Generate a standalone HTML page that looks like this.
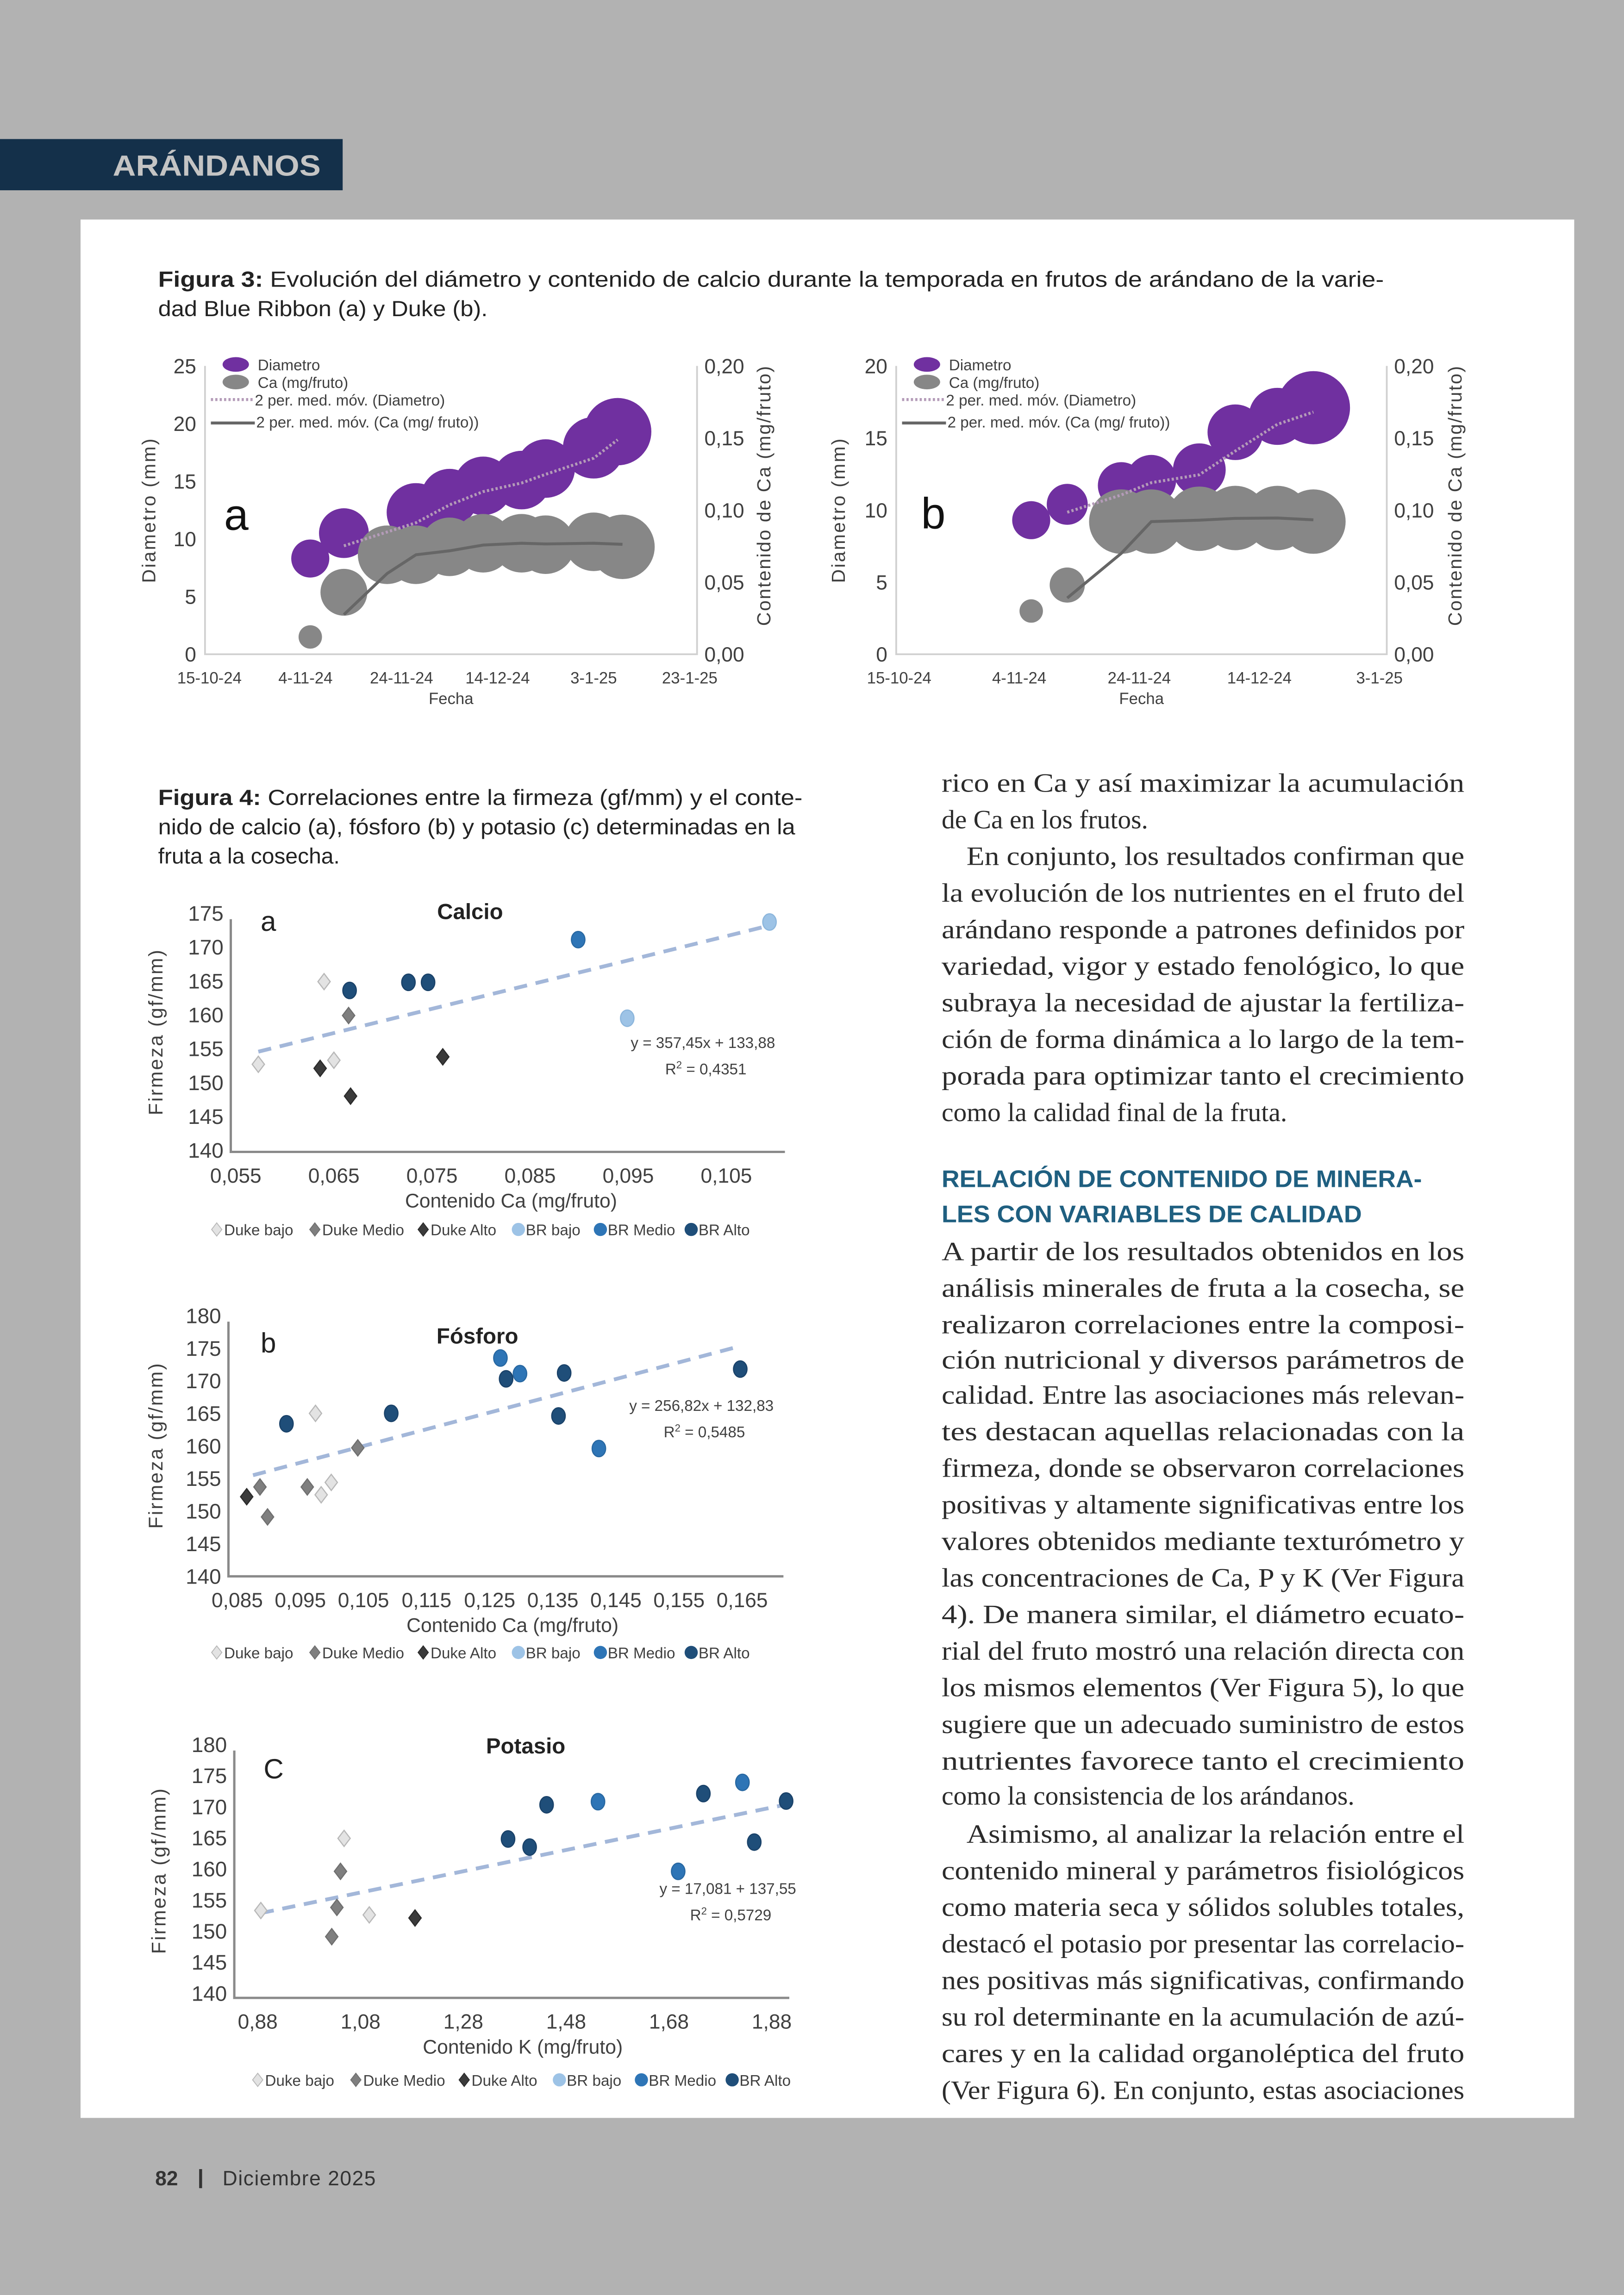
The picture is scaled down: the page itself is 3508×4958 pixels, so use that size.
<!DOCTYPE html>
<html><head><meta charset="utf-8"><title>Arándanos - Figuras 3 y 4</title>
<style>
html,body{margin:0;padding:0;background:#b2b2b2;}
svg{display:block;}
.ax{font-family:"Liberation Sans",sans-serif;fill:#404040;}
.body{font-family:"Liberation Serif",serif;font-size:18.2px;fill:#2b2b2b;}
</style></head>
<body>
<svg id="page" xmlns="http://www.w3.org/2000/svg" width="3508" height="4958" viewBox="0 0 1109 1568" preserveAspectRatio="none">
<rect x="0" y="0" width="1109" height="1568" fill="#b2b2b2"/>
<rect x="0" y="95" width="234" height="35" fill="#14304a"/>
<text x="77" y="120" font-family="Liberation Sans,sans-serif" font-weight="bold" font-size="20" fill="#c4c4c4" textLength="142" lengthAdjust="spacingAndGlyphs">ARÁNDANOS</text>
<rect x="55" y="150" width="1020" height="1297" fill="#ffffff"/>

<g font-family="Liberation Sans,sans-serif" font-size="15" fill="#222">
<text x="108" y="196" textLength="837" lengthAdjust="spacingAndGlyphs"><tspan font-weight="bold">Figura 3:</tspan> Evolución del diámetro y contenido de calcio durante la temporada en frutos de arándano de la varie-</text>
<text x="108" y="216" textLength="225" lengthAdjust="spacingAndGlyphs">dad Blue Ribbon (a) y Duke (b).</text>
</g>

<g font-family="Liberation Sans,sans-serif" font-size="15" fill="#222">
<text x="108" y="550" textLength="440" lengthAdjust="spacingAndGlyphs"><tspan font-weight="bold">Figura 4:</tspan> Correlaciones entre la firmeza (gf/mm) y el conte-</text>
<text x="108" y="570" textLength="435" lengthAdjust="spacingAndGlyphs">nido de calcio (a), fósforo (b) y potasio (c) determinadas en la</text>
<text x="108" y="590" textLength="124" lengthAdjust="spacingAndGlyphs">fruta a la cosecha.</text>
</g>

<g class="body">
<text x="643" y="541" textLength="357" lengthAdjust="spacingAndGlyphs">rico en Ca y así maximizar la acumulación</text>
<text x="643" y="566">de Ca en los frutos.</text>
<text x="660" y="591" textLength="340" lengthAdjust="spacingAndGlyphs">En conjunto, los resultados confirman que</text>
<text x="643" y="616" textLength="357" lengthAdjust="spacingAndGlyphs">la evolución de los nutrientes en el fruto del</text>
<text x="643" y="641" textLength="357" lengthAdjust="spacingAndGlyphs">arándano responde a patrones definidos por</text>
<text x="643" y="666" textLength="357" lengthAdjust="spacingAndGlyphs">variedad, vigor y estado fenológico, lo que</text>
<text x="643" y="691" textLength="357" lengthAdjust="spacingAndGlyphs">subraya la necesidad de ajustar la fertiliza-</text>
<text x="643" y="716" textLength="357" lengthAdjust="spacingAndGlyphs">ción de forma dinámica a lo largo de la tem-</text>
<text x="643" y="741" textLength="357" lengthAdjust="spacingAndGlyphs">porada para optimizar tanto el crecimiento</text>
<text x="643" y="766">como la calidad final de la fruta.</text>
<text x="643" y="861" textLength="357" lengthAdjust="spacingAndGlyphs">A partir de los resultados obtenidos en los</text>
<text x="643" y="886" textLength="357" lengthAdjust="spacingAndGlyphs">análisis minerales de fruta a la cosecha, se</text>
<text x="643" y="911" textLength="357" lengthAdjust="spacingAndGlyphs">realizaron correlaciones entre la composi-</text>
<text x="643" y="935" textLength="357" lengthAdjust="spacingAndGlyphs">ción nutricional y diversos parámetros de</text>
<text x="643" y="959" textLength="357" lengthAdjust="spacingAndGlyphs">calidad. Entre las asociaciones más relevan-</text>
<text x="643" y="984" textLength="357" lengthAdjust="spacingAndGlyphs">tes destacan aquellas relacionadas con la</text>
<text x="643" y="1009" textLength="357" lengthAdjust="spacingAndGlyphs">firmeza, donde se observaron correlaciones</text>
<text x="643" y="1034" textLength="357" lengthAdjust="spacingAndGlyphs">positivas y altamente significativas entre los</text>
<text x="643" y="1059" textLength="357" lengthAdjust="spacingAndGlyphs">valores obtenidos mediante texturómetro y</text>
<text x="643" y="1084" textLength="357" lengthAdjust="spacingAndGlyphs">las concentraciones de Ca, P y K (Ver Figura</text>
<text x="643" y="1109" textLength="357" lengthAdjust="spacingAndGlyphs">4). De manera similar, el diámetro ecuato-</text>
<text x="643" y="1134" textLength="357" lengthAdjust="spacingAndGlyphs">rial del fruto mostró una relación directa con</text>
<text x="643" y="1159" textLength="357" lengthAdjust="spacingAndGlyphs">los mismos elementos (Ver Figura 5), lo que</text>
<text x="643" y="1184" textLength="357" lengthAdjust="spacingAndGlyphs">sugiere que un adecuado suministro de estos</text>
<text x="643" y="1209" textLength="357" lengthAdjust="spacingAndGlyphs">nutrientes favorece tanto el crecimiento</text>
<text x="643" y="1233">como la consistencia de los arándanos.</text>
<text x="660" y="1259" textLength="340" lengthAdjust="spacingAndGlyphs">Asimismo, al analizar la relación entre el</text>
<text x="643" y="1284" textLength="357" lengthAdjust="spacingAndGlyphs">contenido mineral y parámetros fisiológicos</text>
<text x="643" y="1309" textLength="357" lengthAdjust="spacingAndGlyphs">como materia seca y sólidos solubles totales,</text>
<text x="643" y="1334" textLength="357" lengthAdjust="spacingAndGlyphs">destacó el potasio por presentar las correlacio-</text>
<text x="643" y="1359" textLength="357" lengthAdjust="spacingAndGlyphs">nes positivas más significativas, confirmando</text>
<text x="643" y="1384" textLength="357" lengthAdjust="spacingAndGlyphs">su rol determinante en la acumulación de azú-</text>
<text x="643" y="1409" textLength="357" lengthAdjust="spacingAndGlyphs">cares y en la calidad organoléptica del fruto</text>
<text x="643" y="1434" textLength="357" lengthAdjust="spacingAndGlyphs">(Ver Figura 6). En conjunto, estas asociaciones</text>
</g>
<g font-family="Liberation Sans,sans-serif" font-weight="bold" font-size="16.5" fill="#1f5f80">
<text x="643" y="811" textLength="328" lengthAdjust="spacingAndGlyphs">RELACIÓN DE CONTENIDO DE MINERA-</text>
<text x="643" y="835" textLength="287" lengthAdjust="spacingAndGlyphs">LES CON VARIABLES DE CALIDAD</text>
</g>

<g font-family="Liberation Sans,sans-serif" font-size="14" fill="#333">
<text x="106" y="1493" font-weight="bold">82</text>
<rect x="136" y="1482" width="2" height="13" fill="#333"/>
<text x="152" y="1493" letter-spacing="0.5">Diciembre 2025</text>
</g>
<g id="charts"></g>
</svg>

<script>
// ---------- Figure 3 data ----------
const dateTicks = ["15-10-24","4-11-24","24-11-24","14-12-24","3-1-25","23-1-25"];
const dateTickDays = [0,20,40,60,80,100];
const aDiamDays = [21,28,43,50,57,65,70,80,85];
const aDiam = [8.3,10.5,12.3,13.6,14.6,15.1,16.1,17.9,19.3];
const aDiamSize = [13,17,20,19.5,20,20,20,21,23];
const aCaDays = [21,28,37,43,50,57,65,70,80,86];
const aCa = [0.012,0.043,0.069,0.069,0.0745,0.077,0.077,0.076,0.078,0.0745];
const aCaSize = [8,16,20,20,20,20,20,20,20,22];
const bDiamDays = [22,28,37,42,50,56,63,69];
const bDiam = [9.3,10.4,11.7,12.1,12.8,15.4,16.5,17.1];
const bDiamSize = [13,14,16,17,18,19,19.5,25];
const bCaDays = [22,28,37,42,50,56,63,69];
const bCa = [0.030,0.048,0.092,0.092,0.094,0.0945,0.0945,0.092];
const bCaSize = [8,12,22,22,22,22,22,22];

// ---------- Figure 4 data ----------
const groupNames = ["Duke bajo","Duke Medio","Duke Alto","BR bajo","BR Medio","BR Alto"];
const caX = [0.0573,0.0640,0.0650,0.0665,0.0636,0.0667,0.0761,0.0949,0.1094,0.0899,0.0666,0.0726,0.0746];
const caY = [152.5,164.7,153.1,159.7,151.9,147.8,153.6,159.3,173.5,170.9,163.4,164.6,164.6];
const caG = [0,0,0,1,2,2,2,3,3,4,5,5,5];
const caTicks = [0.055,0.065,0.075,0.085,0.095,0.105];
const pX = [0.0974,0.0983,0.0999,0.0886,0.0898,0.0961,0.1041,0.0865,0.1267,0.1298,0.1423,0.0928,0.1094,0.1276,0.1368,0.1359,0.1647];
const pY = [164.8,152.3,154.2,153.5,148.9,153.5,159.5,152.0,173.3,170.9,159.4,163.2,164.8,170.1,171.0,164.4,171.6];
const pG = [0,0,0,1,1,1,1,2,4,4,4,5,5,5,5,5,5];
const pTicks = [0.085,0.095,0.105,0.115,0.125,0.135,0.145,0.155,0.165];
const kX = [0.886,1.048,1.097,1.041,1.034,1.024,1.186,1.542,1.698,1.823,1.367,1.409,1.442,1.747,1.846,1.908];
const kY = [153.1,164.7,152.4,159.4,153.6,148.9,151.9,170.6,159.4,173.7,164.6,163.3,170.1,171.9,164.1,170.7];
const kG = [0,0,0,1,1,1,2,4,4,4,5,5,5,5,5,5];
const kTicks = [0.88,1.08,1.28,1.48,1.68,1.88];
const firmTicks = [140,145,150,155,160,165,170,175,180];

const NS="http://www.w3.org/2000/svg";
const root=document.getElementById('charts');
function mk(tag,attrs,parent,txt){const e=document.createElementNS(NS,tag);for(const k in attrs)e.setAttribute(k,attrs[k]);if(txt!==undefined)e.textContent=txt;(parent||root).appendChild(e);return e;}
function fmt(v,d){return v.toFixed(d).replace('.',',');}

// ---------- Bubble chart ----------
function bubbleChart(cfg){
  const g=mk('g',{});
  
  
  const X=d=>cfg.x0+d*cfg.xs;
  const YL=v=>cfg.yb-(v/cfg.ymax)*(cfg.yb-cfg.yt);
  const YR=v=>cfg.yb-(v/0.20)*(cfg.yb-cfg.yt);
  const ax=mk('path',{d:`M${cfg.axL},${cfg.yt} V${cfg.yb} H${cfg.axR} V${cfg.yt}`,fill:'none',stroke:'#d0d0d0','stroke-width':1.2},g);
  
  
  for(let v=0;v<=cfg.ymax;v+=5){
    const t=mk('text',{x:cfg.axL-6,y:YL(v)+5,'text-anchor':'end','font-size':14,class:'ax'},g,String(v));
    
    
  }
  for(let i=0;i<=4;i++){
    const v=i*0.05;
    const t=mk('text',{x:cfg.axR+5,y:YR(v)+5,'font-size':14,class:'ax'},g,fmt(v,2));
    
    
  }
  cfg.ticks.forEach((lab,i)=>{
    const t=mk('text',{x:X(cfg.tickDays[i]),y:cfg.yb+20,'text-anchor':'middle','font-size':11,class:'ax'},g,lab);
    
    
  });
  let t=mk('text',{x:(cfg.axL+cfg.axR)/2,y:cfg.yb+34,'text-anchor':'middle','font-size':11,class:'ax'},g,'Fecha');
  
  
  t=mk('text',{x:0,y:0,'text-anchor':'middle','font-size':13,class:'ax',transform:`translate(${cfg.lt},${(cfg.yt+cfg.yb)/2}) rotate(-90)`,'letter-spacing':1},g,'Diametro (mm)');
  
  
  t=mk('text',{x:0,y:0,'text-anchor':'middle','font-size':13,class:'ax',transform:`translate(${cfg.rt},${(cfg.yt+cfg.yb)/2-10}) rotate(-90)`,'letter-spacing':0.8},g,'Contenido de Ca (mg/fruto)');
  
  
  cfg.dDays.forEach((d,i)=>{
    const c=mk('circle',{cx:X(d),cy:YL(cfg.diam[i]),r:cfg.dSize[i],fill:'#7030a0'},g);
    
    
  });
  cfg.cDays.forEach((d,i)=>{
    const c=mk('circle',{cx:X(d),cy:YR(cfg.ca[i]),r:cfg.cSize[i],fill:'#878787'},g);
    
    
  });
  let p=[];for(let i=1;i<cfg.diam.length;i++)p.push(X(cfg.dDays[i])+','+YL((cfg.diam[i]+cfg.diam[i-1])/2));
  const m1=mk('polyline',{points:p.join(' '),fill:'none',stroke:'#b49bb8','stroke-width':2,'stroke-dasharray':'1.5 1.5'},g);
  
  
  p=[];for(let i=1;i<cfg.ca.length;i++)p.push(X(cfg.cDays[i])+','+YR((cfg.ca[i]+cfg.ca[i-1])/2));
  const m2=mk('polyline',{points:p.join(' '),fill:'none',stroke:'#666','stroke-width':2},g);
  
  
  const lg=mk('g',{'font-size':10.5,class:'ax'},g);
  
  
  const lx=cfg.lx, ly=cfg.yt;
  mk('ellipse',{cx:lx,cy:ly-1,rx:9,ry:5,fill:'#7030a0'},lg);
  mk('text',{x:lx+15,y:ly+3},lg,'Diametro');
  mk('ellipse',{cx:lx,cy:ly+11,rx:9,ry:5,fill:'#878787'},lg);
  mk('text',{x:lx+15,y:ly+15},lg,'Ca (mg/fruto)');
  mk('line',{x1:lx-17,y1:ly+23,x2:lx+13,y2:ly+23,stroke:'#b49bb8','stroke-width':2,'stroke-dasharray':'1.5 1.5'},lg);
  mk('text',{x:lx+13,y:ly+27},lg,'2 per. med. móv. (Diametro)');
  mk('line',{x1:lx-17,y1:ly+39,x2:lx+13,y2:ly+39,stroke:'#666','stroke-width':2},lg);
  mk('text',{x:lx+14,y:ly+42},lg,'2 per. med. móv. (Ca (mg/ fruto))');
  t=mk('text',{x:cfg.letX,y:cfg.letY,'font-size':30,fill:'#111','font-family':'Liberation Sans,sans-serif'},g,cfg.letter);
  
  
}
bubbleChart({name:'figure-3a-chart',x0:143,xs:3.28,axL:140,axR:476,yt:250,yb:447,ymax:25,ticks:dateTicks,tickDays:dateTickDays,
  dDays:aDiamDays,diam:aDiam,dSize:aDiamSize,cDays:aCaDays,ca:aCa,cSize:aCaSize,lt:106,rt:526,lx:161,letter:'a',letX:153,letY:362});
bubbleChart({name:'figure-3b-chart',x0:614,xs:4.1,axL:612,axR:947,yt:250,yb:447,ymax:20,ticks:dateTicks.slice(0,5),tickDays:dateTickDays.slice(0,5),
  dDays:bDiamDays,diam:bDiam,dSize:bDiamSize,cDays:bCaDays,ca:bCa,cSize:bCaSize,lt:577,rt:998,lx:633,letter:'b',letX:629,letY:361});

// ---------- Scatter charts ----------
const gFill=['#e3e3e3','#7f7f7f','#3b3b3b','#9dc3e6','#2e75b6','#1f4e79'];
const gStroke=['#b8b8b8','#6f6f6f','#2b2b2b','#8cb6dc','#2868a2','#1a4269'];
function scatter(cfg){
  const g=mk('g',{});
  
  
  const X=v=>cfg.x0px+(v-cfg.x0)*cfg.xs;
  const Y=v=>cfg.ytop+(cfg.ymax-v)*cfg.ys;
  const ax=mk('path',{d:`M${cfg.axL},${Y(cfg.ymax)+5} V${cfg.axB} H${cfg.axR}`,fill:'none',stroke:'#8a8a8a','stroke-width':1.6},g);
  
  
  firmTicks.filter(v=>v<=cfg.ymax).forEach(v=>{
    const t=mk('text',{x:cfg.axL-5,y:Y(v)+6,'text-anchor':'end','font-size':14.5,class:'ax'},g,String(v));
    
    
  });
  cfg.ticks.forEach(v=>{
    const t=mk('text',{x:X(v),y:cfg.axB+21,'text-anchor':'middle','font-size':14,class:'ax'},g,fmt(v,cfg.dec));
    
    
  });
  let t=mk('text',{x:cfg.xtX,y:cfg.axB+38,'text-anchor':'middle','font-size':13.5,class:'ax'},g,cfg.xtitle);
  
  
  t=mk('text',{x:0,y:0,'text-anchor':'middle','font-size':13.5,class:'ax','letter-spacing':1,transform:`translate(${cfg.ytX},${(Y(cfg.ymax)+cfg.axB)/2}) rotate(-90)`},g,'Firmeza (gf/mm)');
  
  
  t=mk('text',{x:cfg.titleX,y:cfg.titleY,'text-anchor':'middle','font-size':15,'font-weight':'bold',fill:'#222','font-family':'Liberation Sans,sans-serif'},g,cfg.title);
  
  
  t=mk('text',{x:cfg.letX,y:cfg.letY,'font-size':19,fill:'#222','font-family':'Liberation Sans,sans-serif'},g,cfg.letter);
  
  
  const tl=mk('line',{x1:X(cfg.tx0),y1:Y(cfg.a*cfg.tx0+cfg.b),x2:X(cfg.tx1),y2:Y(cfg.a*cfg.tx1+cfg.b),stroke:'#a3b7d9','stroke-width':2.6,'stroke-dasharray':'9 6'},g);
  
  
  cfg.xs_.forEach((xv,i)=>{
    const gi=cfg.gs[i],cx=X(xv),cy=Y(cfg.ys_[i]);
    let m;
    if(gi<3){m=mk('path',{d:`M${cx},${cy-5.5} L${cx+4.2},${cy} L${cx},${cy+5.5} L${cx-4.2},${cy} Z`,fill:gFill[gi],stroke:gStroke[gi],'stroke-width':0.8},g);}
    else{m=mk('ellipse',{cx:cx,cy:cy,rx:4.6,ry:5.6,fill:gFill[gi],stroke:gStroke[gi],'stroke-width':0.8},g);}
    
    
  });
  t=mk('text',{x:cfg.eqX,y:cfg.eqY,'text-anchor':'middle','font-size':10.5,class:'ax'},g,cfg.eq);
  
  
  t=mk('text',{x:cfg.eqX+2,y:cfg.eqY+18,'text-anchor':'middle','font-size':10.5,class:'ax'},g);
  
  
  t.innerHTML='R<tspan font-size="7" dy="-4">2</tspan><tspan dy="4"> = '+cfg.r2+'</tspan>';
  const lg=mk('g',{'font-size':10.5,class:'ax'},g);
  
  
  const offs=[0,67,141,206,262,324];
  groupNames.forEach((n,i)=>{
    const lx=cfg.legX+offs[i], ly=cfg.legY;
    if(i<3) mk('path',{d:`M${lx},${ly-4.5} L${lx+3.5},${ly} L${lx},${ly+4.5} L${lx-3.5},${ly} Z`,fill:gFill[i],stroke:gStroke[i],'stroke-width':0.6},lg);
    else mk('circle',{cx:lx,cy:ly,r:4.5,fill:gFill[i]},lg);
    mk('text',{x:lx+5,y:ly+4},lg,n);
  });
}
scatter({name:'calcio-scatter',x0:0.055,x0px:161,xs:6700,ymax:175,ytop:623,ys:4.629,axL:157.6,axB:787,axR:536,ticks:caTicks,dec:3,
  xtitle:'Contenido Ca (mg/fruto)',xtX:349,ytX:111,title:'Calcio',titleX:321,titleY:628,letter:'a',letX:178,letY:636,
  a:357.45,b:133.88,tx0:0.0573,tx1:0.1094,xs_:caX,ys_:caY,gs:caG,eq:'y = 357,45x + 133,88',r2:'0,4351',eqX:480,eqY:716,legX:148,legY:840});
scatter({name:'fosforo-scatter',x0:0.085,x0px:162,xs:4310,ymax:180,ytop:898,ys:4.45,axL:156,axB:1077,axR:535,ticks:pTicks,dec:3,
  xtitle:'Contenido Ca (mg/fruto)',xtX:350,ytX:111,title:'Fósforo',titleX:326,titleY:918,letter:'b',letX:178,letY:924,
  a:256.82,b:132.83,tx0:0.0875,tx1:0.1645,xs_:pX,ys_:pY,gs:pG,eq:'y = 256,82x + 132,83',r2:'0,5485',eqX:479,eqY:964,legX:148,legY:1129});
scatter({name:'potasio-scatter',x0:0.88,x0px:176,xs:351,ymax:180,ytop:1191,ys:4.25,axL:160,axB:1365,axR:539,ticks:kTicks,dec:2,
  xtitle:'Contenido K (mg/fruto)',xtX:357,ytX:113,title:'Potasio',titleX:359,titleY:1198,letter:'C',letX:180,letY:1215,
  a:17.081,b:137.55,tx0:0.886,tx1:1.908,xs_:kX,ys_:kY,gs:kG,eq:'y = 17,081 + 137,55',r2:'0,5729',eqX:497,eqY:1294,legX:176,legY:1421});
</script>
</body></html>
